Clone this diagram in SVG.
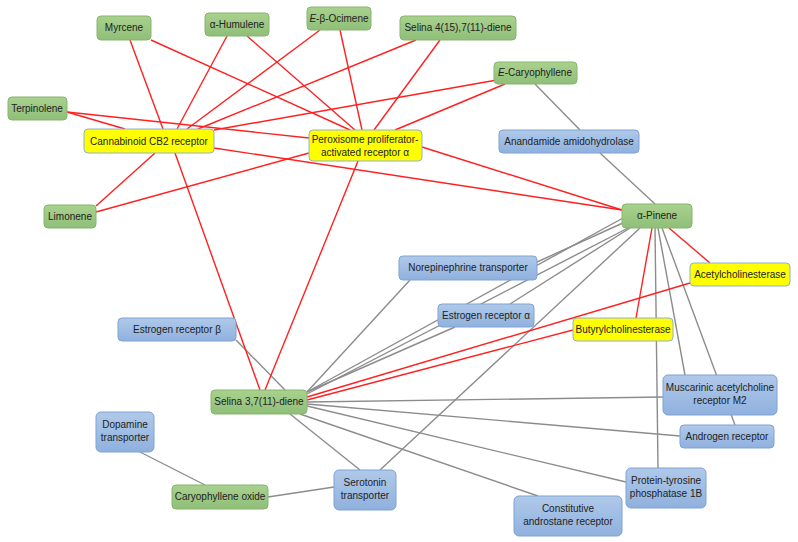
<svg xmlns="http://www.w3.org/2000/svg" width="798" height="542" viewBox="0 0 798 542">
<defs>
<linearGradient id="gg" x1="0" y1="0" x2="0" y2="1"><stop offset="0" stop-color="#a9d18e"/><stop offset="1" stop-color="#8fbf78"/></linearGradient>
<linearGradient id="bg" x1="0" y1="0" x2="0" y2="1"><stop offset="0" stop-color="#b0c9ea"/><stop offset="1" stop-color="#8fb1de"/></linearGradient>
</defs>
<style>
.g rect{fill:url(#gg);stroke:#86b56e;stroke-width:1}
.b rect{fill:url(#bg);stroke:#7fa3d3;stroke-width:1}
.y rect{fill:#ffff00;stroke:#8fb0d6;stroke-width:1}
text{font-family:"Liberation Sans",Arial,sans-serif;font-size:10px;fill:#222;text-anchor:middle}
.r line{stroke:#ff2020;stroke-width:1.4}
.k line{stroke:#8c8c8c;stroke-width:1.4}
</style>
<rect width="798" height="542" fill="#fff"/>
<g id="connectors">
<g class="k">
<line x1="535" y1="84" x2="580" y2="130"/>
<line x1="600" y1="153" x2="655" y2="204"/>
<line x1="625" y1="222" x2="537" y2="262"/>
<line x1="307" y1="392" x2="410" y2="280"/>
<line x1="307" y1="392" x2="455" y2="327"/>
<line x1="236" y1="340" x2="285" y2="390"/>
<line x1="307" y1="392" x2="623" y2="218"/>
<line x1="307" y1="394" x2="628" y2="228"/>
<line x1="307" y1="402" x2="663" y2="397"/>
<line x1="307" y1="404" x2="680" y2="436"/>
<line x1="307" y1="406" x2="626" y2="482"/>
<line x1="300" y1="414" x2="538" y2="496"/>
<line x1="290" y1="414" x2="360" y2="470"/>
<line x1="380" y1="470" x2="640" y2="228"/>
<line x1="510" y1="304" x2="630" y2="228"/>
<line x1="658" y1="228" x2="685" y2="375"/>
<line x1="662" y1="228" x2="735" y2="425"/>
<line x1="655" y1="228" x2="658" y2="468"/>
<line x1="140" y1="452" x2="205" y2="485"/>
<line x1="268" y1="497" x2="334" y2="487"/>
</g>
<g class="r">
<line x1="130" y1="40" x2="163" y2="129"/>
<line x1="151" y1="40" x2="350" y2="130"/>
<line x1="227" y1="36" x2="177" y2="129"/>
<line x1="247" y1="36" x2="355" y2="130"/>
<line x1="320" y1="30" x2="187" y2="129"/>
<line x1="340" y1="30" x2="362" y2="130"/>
<line x1="416" y1="40" x2="198" y2="129"/>
<line x1="440" y1="40" x2="374" y2="130"/>
<line x1="497" y1="80" x2="214" y2="130"/>
<line x1="505" y1="84" x2="395" y2="130"/>
<line x1="67" y1="112" x2="125" y2="129"/>
<line x1="67" y1="112" x2="309" y2="138"/>
<line x1="214" y1="148" x2="622" y2="210"/>
<line x1="422" y1="147" x2="622" y2="210"/>
<line x1="96" y1="212" x2="309" y2="153"/>
<line x1="96" y1="206" x2="155" y2="153"/>
<line x1="175" y1="153" x2="260" y2="390"/>
<line x1="358" y1="161" x2="265" y2="390"/>
<line x1="669" y1="228" x2="710" y2="263"/>
<line x1="652" y1="228" x2="636" y2="318"/>
<line x1="690" y1="283" x2="307" y2="397"/>
<line x1="573" y1="330" x2="307" y2="400"/>
</g>
</g>
<g id="myrcene" class="g"><rect x="97" y="16" width="54" height="24" rx="4"/><text x="124" y="31">Myrcene</text></g>
<g id="humulene" class="g"><rect x="205" y="13" width="64" height="23" rx="4"/><text x="237" y="28">α-Humulene</text></g>
<g id="ocimene" class="g"><rect x="307" y="7" width="64" height="23" rx="4"/><text x="339" y="22"><tspan font-style="italic">E</tspan>-β-Ocimene</text></g>
<g id="selina4" class="g"><rect x="400" y="16" width="116" height="24" rx="4"/><text x="458" y="31">Selina 4(15),7(11)-diene</text></g>
<g id="ecaryo" class="g"><rect x="494" y="62" width="83" height="22" rx="4"/><text x="535" y="76"><tspan font-style="italic">E</tspan>-Caryophyllene</text></g>
<g id="terpinolene" class="g"><rect x="8" y="97" width="59" height="23" rx="4"/><text x="37" y="112">Terpinolene</text></g>
<g id="cb2" class="y"><rect x="84" y="129" width="130" height="24" rx="4"/><text x="149" y="145">Cannabinoid CB2 receptor</text></g>
<g id="ppar" class="y"><rect x="309" y="130" width="113" height="31" rx="4"/><text x="365" y="143">Peroxisome proliferator-</text><text x="365" y="156">activated receptor α</text></g>
<g id="anandamide" class="b"><rect x="499" y="130" width="140" height="23" rx="4"/><text x="569" y="145">Anandamide amidohydrolase</text></g>
<g id="limonene" class="g"><rect x="44" y="205" width="52" height="23" rx="4"/><text x="70" y="220">Limonene</text></g>
<g id="pinene" class="g"><rect x="622" y="204" width="70" height="24" rx="4"/><text x="657" y="219">α-Pinene</text></g>
<g id="norepinephrine" class="b"><rect x="399" y="256" width="138" height="24" rx="4"/><text x="468" y="271">Norepinephrine transporter</text></g>
<g id="ache" class="y"><rect x="690" y="263" width="100" height="23" rx="4"/><text x="740" y="278">Acetylcholinesterase</text></g>
<g id="era" class="b"><rect x="438" y="304" width="96" height="23" rx="4"/><text x="486" y="319">Estrogen receptor α</text></g>
<g id="erb" class="b"><rect x="118" y="318" width="118" height="23" rx="4"/><text x="177" y="333">Estrogen receptor β</text></g>
<g id="buche" class="y"><rect x="573" y="318" width="100" height="23" rx="4"/><text x="623" y="333">Butyrylcholinesterase</text></g>
<g id="selina3" class="g"><rect x="211" y="390" width="96" height="24" rx="4"/><text x="259" y="405">Selina 3,7(11)-diene</text></g>
<g id="muscarinic" class="b"><rect x="663" y="375" width="114" height="40" rx="5"/><text x="720" y="391">Muscarinic acetylcholine</text><text x="720" y="404">receptor M2</text></g>
<g id="dopamine" class="b"><rect x="96" y="412" width="58" height="40" rx="5"/><text x="125" y="428">Dopamine</text><text x="125" y="441">transporter</text></g>
<g id="androgen" class="b"><rect x="680" y="425" width="94" height="23" rx="4"/><text x="727" y="440">Androgen receptor</text></g>
<g id="ptp" class="b"><rect x="626" y="468" width="80" height="40" rx="5"/><text x="666" y="484">Protein-tyrosine</text><text x="666" y="497">phosphatase 1B</text></g>
<g id="caryoxide" class="g"><rect x="172" y="485" width="96" height="24" rx="4"/><text x="220" y="500">Caryophyllene oxide</text></g>
<g id="serotonin" class="b"><rect x="334" y="470" width="62" height="40" rx="5"/><text x="365" y="486">Serotonin</text><text x="365" y="499">transporter</text></g>
<g id="car" class="b"><rect x="514" y="496" width="108" height="40" rx="5"/><text x="568" y="512">Constitutive</text><text x="568" y="525">androstane receptor</text></g>
</svg>
